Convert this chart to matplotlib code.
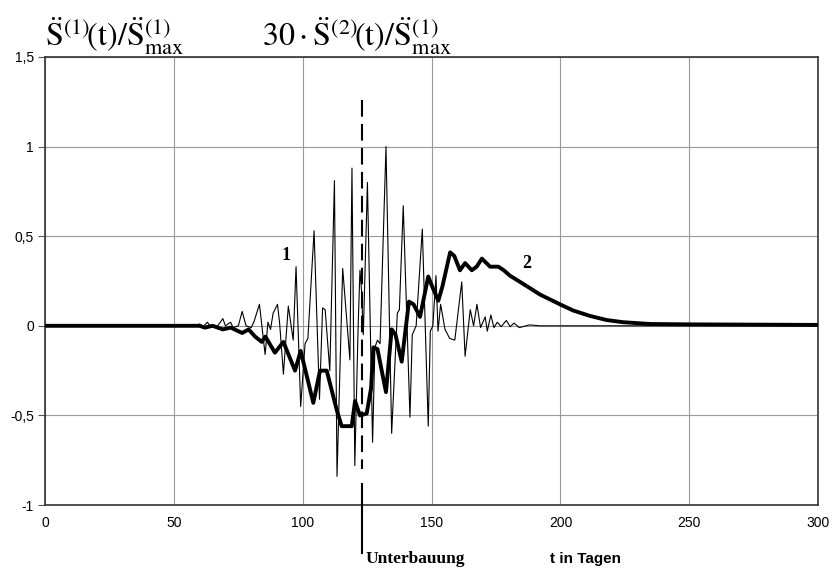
import matplotlib
matplotlib.use("Agg")
import matplotlib.pyplot as plt
import numpy as np

plt.rcParams['mathtext.fontset'] = 'stix'

# Curve 1 (thin): S''(1)(t)/S''max
t1 = [0, 58, 60, 61, 63, 64, 67, 69, 70, 72, 73, 75, 76.5, 78, 80, 81, 83.2, 85.4, 86.5, 87.5,
      88.5, 90.2, 91, 92.5, 94.4, 96.3, 97.4, 99.2, 100.9, 102, 104.4, 106.5, 107.7, 108.7, 110.5,
      112.3, 113.3, 115.5, 118.3, 119.1, 120.2, 121.5, 122.2, 122.8, 123.5, 125.1, 127.1, 128, 129,
      130, 132.3, 134.5, 136.7, 137.5, 139, 141.6, 142.5, 144, 146.4, 148.7, 149.5, 150.5, 151.7,
      152.5, 153.5, 155.2, 157, 159, 161.7, 163, 165, 166.3, 167.6, 169, 170.8, 171.6,
      173, 174.2, 175.5, 177, 179, 180.5, 182, 184, 188, 192, 300]
v1 = [0, 0, 0.01, -0.01, 0.02, 0, 0, 0.04, 0, 0.02, -0.01, 0.0, 0.08, 0.0, -0.01, 0.02, 0.12, -0.16, 0.02, -0.02,
      0.07, 0.12, 0.02, -0.27, 0.11, -0.08, 0.33, -0.45, -0.10, -0.07, 0.53, -0.41, 0.10, 0.09, -0.25,
      0.81, -0.84, 0.32, -0.19, 0.88, -0.78, 0.0, 0.31, 0.20, -0.05, 0.80, -0.65, -0.12, -0.08,
      -0.10, 1.00, -0.60, 0.07, 0.09, 0.67, -0.51, -0.05, 0.0, 0.54, -0.56, -0.03, 0.0, 0.28,
      -0.03, 0.12, -0.02, -0.07, -0.08, 0.245, -0.17, 0.09, 0.0, 0.12, -0.01, 0.05, -0.03,
      0.06, -0.01, 0.02, -0.005, 0.03, -0.005, 0.015, -0.01, 0.005, 0.0, 0.0]

# Curve 2 (thick): 30*S''(2)(t)/S''max
t2 = [0, 60, 62, 65, 69, 72, 76.5, 79, 81.5, 84.1, 85.5, 89.2, 92.5, 97, 99.2, 104.1, 106.7, 109.3,
      113.2, 115.1, 119, 120.3, 122.2, 124.8, 126.5, 127.4, 129, 132.3, 134.5, 136, 138.4, 141.2,
      143, 145.5, 148.7, 150.5, 152.6, 154.2, 157.2, 158.8, 161, 163, 165.6, 167.5, 169.5, 172.7,
      175.9, 178, 180.4, 188.2, 192, 199.8, 205, 211.5, 218, 224.4, 235, 250, 300]
v2 = [0, 0, -0.01, 0.0, -0.02, -0.01, -0.04, -0.02, -0.06, -0.09, -0.06, -0.15, -0.09, -0.25, -0.14, -0.43, -0.25, -0.25,
      -0.47, -0.56, -0.56, -0.42, -0.50, -0.49, -0.35, -0.12, -0.13, -0.37, -0.02, -0.05, -0.20, 0.135,
      0.12, 0.05, 0.275, 0.21, 0.14, 0.22, 0.41, 0.39, 0.31, 0.35, 0.31, 0.33, 0.375, 0.33,
      0.33, 0.31, 0.28, 0.21, 0.175, 0.12, 0.085, 0.055, 0.032, 0.02, 0.01, 0.008, 0.005]

x_ticks = [0, 50, 100, 150, 200, 250, 300]
y_ticks = [-1, -0.5, 0, 0.5, 1, 1.5]
y_ticklabels = ['-1', '-0,5', '0', '0,5', '1', '1,5']
t_unterbauung = 123

fig = plt.figure(figsize=(8.34, 5.70), dpi=100)
ax = fig.add_axes([0.054, 0.114, 0.927, 0.786])

ax.plot(t1, v1, color='black', lw=0.8, zorder=3)
ax.plot(t2, v2, color='black', lw=2.8, zorder=4, solid_joinstyle='round')

ax.set_xlim(0, 300)
ax.set_ylim(-1, 1.5)
ax.set_xticks(x_ticks)
ax.set_yticks(y_ticks)
ax.set_yticklabels(y_ticklabels)
for lab in ax.get_xticklabels() + ax.get_yticklabels():
    lab.set_fontfamily('Liberation Sans')
    lab.set_fontsize(10)
ax.tick_params(axis='x', length=0, pad=8)
ax.tick_params(axis='y', length=5, width=0.8, color='#555555', pad=3)
ax.grid(True, color='#999999', lw=0.8)
ax.set_axisbelow(True)
for s in ax.spines.values():
    s.set_linewidth(1.2)
    s.set_color('#333333')

# Unterbauung marker
ax.plot([t_unterbauung, t_unterbauung], [1.26, -0.8], color='black', lw=1.5,
        dashes=(8, 3.5), zorder=5)
ax.plot([t_unterbauung, t_unterbauung], [-0.88, -1.0], color='black', lw=1.5, zorder=5)
ax.plot([t_unterbauung, t_unterbauung], [-1.0, -1.27], color='black', lw=1.5,
        clip_on=False, zorder=5)
ax.text(t_unterbauung + 1.5, -1.3, 'Unterbauung', fontfamily='Liberation Serif',
        fontweight='bold', fontsize=12.5, ha='left', va='center', clip_on=False)
ax.text(196, -1.3, 't in Tagen', fontfamily='Liberation Sans', fontweight='bold',
        fontsize=11, ha='left', va='center', clip_on=False)

ax.text(93.5, 0.39, '1', fontfamily='Liberation Serif', fontweight='bold', fontsize=13,
        ha='center', va='center')
ax.text(187, 0.35, '2', fontfamily='Liberation Serif', fontweight='bold', fontsize=13,
        ha='center', va='center')

fig.text(0.054, 0.918, r'$\ddot{\mathrm{S}}^{(1)}\!\left(\mathrm{t}\right)/\ddot{\mathrm{S}}^{(1)}_{\mathrm{max}}$',
         fontsize=23, ha='left', va='baseline')
fig.text(0.314, 0.918, r'$30\cdot\ddot{\mathrm{S}}^{(2)}\!\left(\mathrm{t}\right)/\ddot{\mathrm{S}}^{(1)}_{\mathrm{max}}$',
         fontsize=23, ha='left', va='baseline')

fig.savefig('out.png', dpi=100, facecolor='white')
